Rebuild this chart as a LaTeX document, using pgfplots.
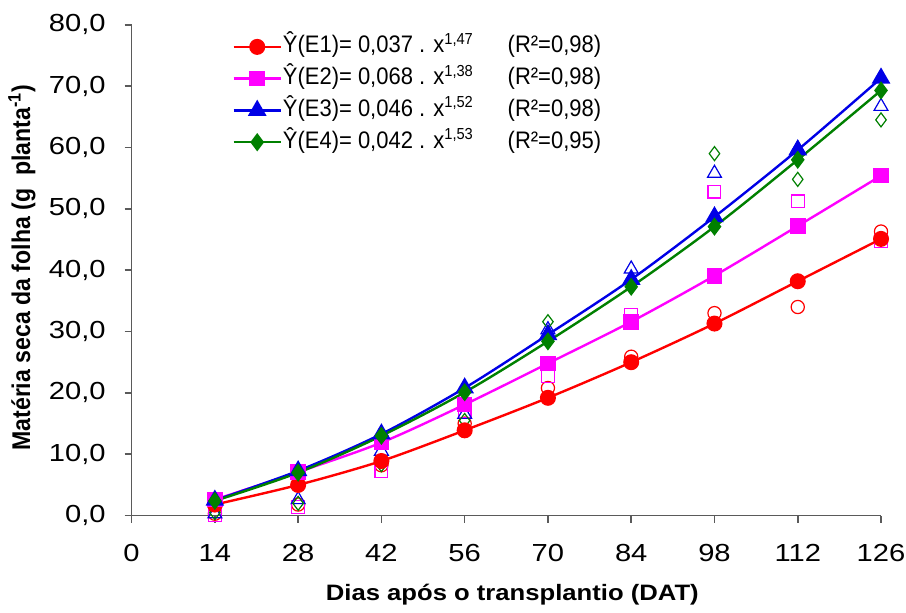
\documentclass[border=0pt]{standalone}
\usepackage{fontspec}
\setmainfont{Liberation Sans}
\newfontfamily\tickfont[FakeStretch=1.18]{Liberation Sans}
\newfontfamily\xlabfont[FakeStretch=1.15]{Liberation Sans}
\newfontfamily\legfont[FakeStretch=0.92]{Liberation Sans}
\usepackage{graphicx}
\usepackage{pgfplots}
\pgfplotsset{compat=1.18}
\definecolor{cE1}{RGB}{255,0,0}
\definecolor{cE2}{RGB}{255,0,255}
\definecolor{cE3}{RGB}{0,0,230}
\definecolor{cE4}{RGB}{0,128,0}
\definecolor{axgray}{RGB}{90,90,90}
\begin{document}
\begin{tikzpicture}
\begin{axis}[
 name=ax, scale only axis, width=375bp, height=245.6bp,
 xmin=0, xmax=126, ymin=0, ymax=80,
 xtick={0,14,...,126}, ytick={0,10,...,80},
 axis lines=left, axis line style={-, axgray, line width=0.8bp},
 tick style={axgray, line width=0.8bp}, tick align=outside, major tick length=3.5bp,
 clip=false,
 tick label style={font=\tickfont\fontsize{12.4}{14}\selectfont},
 yticklabel={\pgfmathprintnumber[fixed,fixed zerofill,precision=1,use comma,assume math mode=true]{\tick}},
 yticklabel style={xshift=-6bp},
 xticklabel style={/pgf/number format/assume math mode=true, yshift=-7.5bp, inner xsep=0pt},
 every axis x label/.style={at={(axis description cs:0.508,0)}, anchor=center, yshift=-39.5bp},
 every axis y label/.style={at={([xshift=-54.85bp]axis description cs:0,0.505)}, rotate=90, anchor=center, inner sep=0pt},
 xlabel={\xlabfont\fontsize{11.2}{13}\selectfont\bfseries Dias após o transplantio (DAT)},
 ylabel={\scalebox{1}[1.11]{\fontsize{11.6}{13}\selectfont\bfseries Matéria seca da folha (g\ \ planta\textsuperscript{-1})}},
 legend style={at={(axis cs:15.9,79.7)}, anchor=north west, draw=none, fill=none,
   font=\legfont\fontsize{12}{14}\selectfont, row sep=0pt, cells={anchor=west},
   nodes={inner ysep=0pt, inner xsep=0.5bp, text height=11bp, text depth=4.9bp}},
 legend image code/.code={\draw[mark repeat=2,mark phase=2,#1] plot coordinates {(0bp,0bp) (11.75bp,0bp) (23.5bp,0bp)};},
]
% observed values (hollow)
\addplot[cE1, only marks, mark=o, mark size=3.3bp, mark options={line width=0.6bp}, forget plot] coordinates {
(14,0.3) (28,1.8) (42,8.2) (56,15.0) (70,20.8) (84,25.9) (98,33.0) (112,34.0) (126,46.3)};
\addplot[cE2, only marks, mark=square, mark size=3.2bp, mark options={line width=0.6bp}, forget plot] coordinates {
(14,0.1) (28,1.4) (42,7.2) (56,17.0) (70,22.8) (84,32.7) (98,52.8) (112,51.2) (126,44.8)};
\addplot[cE3, only marks, mark=triangle, mark size=4bp, mark options={line width=0.6bp}, forget plot] coordinates {
(14,0.3) (28,2.6) (42,10.5) (56,16.5) (70,30.3) (84,40.2) (98,55.8) (112,59.8) (126,66.7)};
\addplot[cE4, only marks, mark=diamond, mark size=3.5bp, mark options={line width=0.6bp}, forget plot] coordinates {
(14,0.5) (28,2.0) (42,8.3) (56,15.5) (70,31.6) (84,38.0) (98,59.0) (112,54.8) (126,64.5)};
% fitted values
\addplot[cE1, line width=1.2bp, smooth, mark=*, mark size=3.4bp, mark options={solid}] coordinates {
(14,1.8) (28,5.0) (42,8.9) (56,13.9) (70,19.2) (84,25.0) (98,31.3) (112,38.2) (126,45.1)};
\addlegendentry{\makebox[112.5bp][l]{Ŷ(E1)= 0,037 . x\textsuperscript{1,47}}(R²=0,98)}
\addplot[cE2, line width=1.2bp, smooth, mark=square*, mark size=3.3bp, mark options={solid}] coordinates {
(14,2.6) (28,7.1) (42,11.9) (56,18.1) (70,24.8) (84,31.6) (98,39.1) (112,47.2) (126,55.4)};
\addlegendentry{\makebox[112.5bp][l]{Ŷ(E2)= 0,068 . x\textsuperscript{1,38}}(R²=0,98)}
\addplot[cE3, line width=1.2bp, smooth, mark=triangle*, mark size=4.2bp, mark options={solid}] coordinates {
(14,2.5) (28,7.3) (42,13.3) (56,20.8) (70,29.5) (84,38.5) (98,48.7) (112,59.6) (126,71.3)};
\addlegendentry{\makebox[112.5bp][l]{Ŷ(E3)= 0,046 . x\textsuperscript{1,52}}(R²=0,98)}
\addplot[cE4, line width=1.2bp, smooth, mark=diamond*, mark size=3.6bp, mark options={solid}] coordinates {
(14,2.4) (28,7.0) (42,13.0) (56,20.1) (70,28.4) (84,37.3) (98,47.1) (112,58.0) (126,69.3)};
\addlegendentry{\makebox[112.5bp][l]{Ŷ(E4)= 0,042 . x\textsuperscript{1,53}}(R²=0,95)}
\end{axis}
\path ([xshift=-65.85bp,yshift=-48.5bp]ax.south west) rectangle ([xshift=12.5bp,yshift=12.4bp]ax.north east);
\end{tikzpicture}
\end{document}
